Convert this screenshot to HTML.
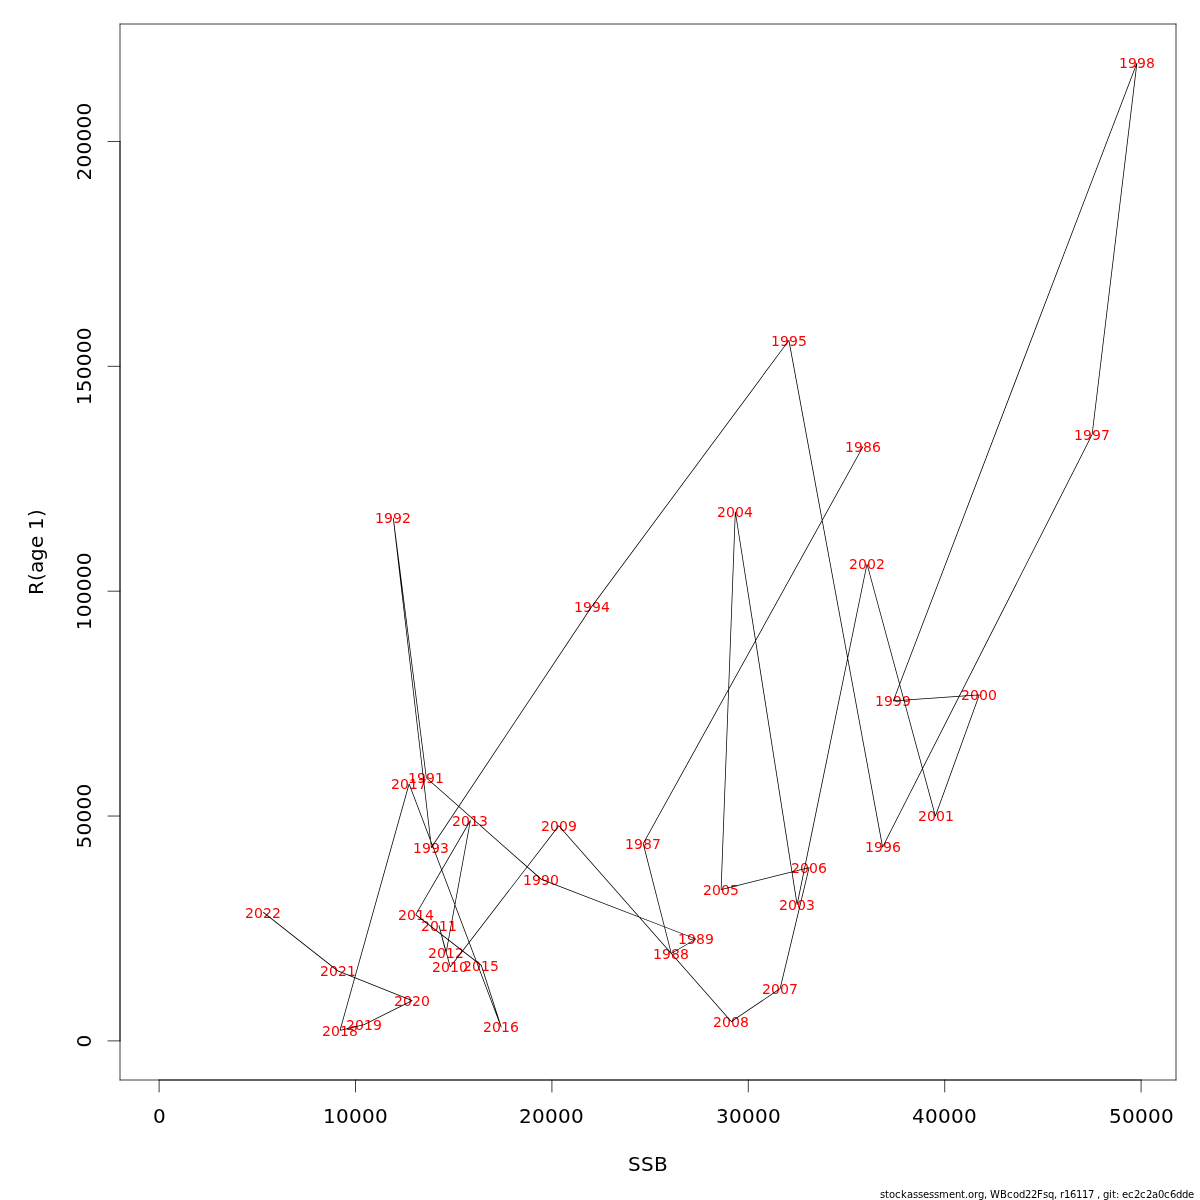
<!DOCTYPE html>
<html lang="en">
<head>
<meta charset="utf-8">
<title>WBcod22Fsq stock-recruitment</title>
<style>
html,body{margin:0;padding:0;background:#fff;}
body{width:1200px;height:1200px;overflow:hidden;}
svg{display:block;}
text{font-family:"DejaVu Sans","Liberation Sans",sans-serif;}
.ax{font-size:20px;fill:#000;}
.yr{font-size:14px;fill:#f00;}
.ft{font-size:10px;fill:#000;}
.ln{stroke:#000;stroke-width:0.75;fill:none;stroke-linecap:round;stroke-linejoin:round;}
</style>
</head>
<body>
<svg width="1200" height="1200" viewBox="0 0 1200 1200">
<rect x="0" y="0" width="1200" height="1200" fill="#fff"/>

<g class="yr">
<text x="845 854 863 872" y="452">1986</text>
<text x="625 634 643 652" y="849">1987</text>
<text x="653 662 671 680" y="959">1988</text>
<text x="678 687 696 705" y="944">1989</text>
<text x="523 532 541 550" y="885">1990</text>
<text x="408 417 426 435" y="783">1991</text>
<text x="375 384 393 402" y="523">1992</text>
<text x="413 422 431 440" y="853">1993</text>
<text x="574 583 592 601" y="612">1994</text>
<text x="771 780 789 798" y="346">1995</text>
<text x="865 874 883 892" y="852">1996</text>
<text x="1074 1083 1092 1101" y="440">1997</text>
<text x="1119 1128 1137 1146" y="68">1998</text>
<text x="875 884 893 902" y="706">1999</text>
<text x="961 970 979 988" y="700">2000</text>
<text x="918 927 936 945" y="821">2001</text>
<text x="849 858 867 876" y="569">2002</text>
<text x="779 788 797 806" y="910">2003</text>
<text x="717 726 735 744" y="517">2004</text>
<text x="703 712 721 730" y="895">2005</text>
<text x="791 800 809 818" y="873">2006</text>
<text x="762 771 780 789" y="994">2007</text>
<text x="713 722 731 740" y="1027">2008</text>
<text x="541 550 559 568" y="831">2009</text>
<text x="432 441 450 459" y="972">2010</text>
<text x="421 430 439 448" y="931">2011</text>
<text x="428 437 446 455" y="958">2012</text>
<text x="452 461 470 479" y="826">2013</text>
<text x="398 407 416 425" y="920">2014</text>
<text x="463 472 481 490" y="971">2015</text>
<text x="483 492 501 510" y="1032">2016</text>
<text x="391 400 409 418" y="789">2017</text>
<text x="322 331 340 349" y="1036">2018</text>
<text x="346 355 364 373" y="1030">2019</text>
<text x="394 403 412 421" y="1006">2020</text>
<text x="320 329 338 347" y="976">2021</text>
<text x="245 254 263 272" y="918">2022</text>
</g>
<path fill="#000" fill-rule="nonzero" d="M863.33 446.78 L643.53 843.78 L642.87 843.42 L862.67 446.42Z M643.56 843.51 L671.66 953.41 L670.94 953.59 L642.84 843.69Z M671.11 953.18 L695.81 938.68 L696.19 939.32 L671.49 953.82Z M695.87 939.35 L541.27 879.75 L541.53 879.05 L696.13 938.65Z M541.15 879.68 L426.05 778.08 L426.55 777.52 L541.65 879.12Z M425.93 777.85 L392.93 518.15 L393.67 518.05 L426.67 777.75Z M393.67 518.06 L431.77 847.46 L431.03 847.54 L392.93 518.14Z M431.09 847.29 L591.49 606.29 L592.11 606.71 L431.71 847.71Z M591.50 606.28 L788.60 340.18 L789.20 340.62 L592.10 606.72Z M789.27 340.33 L882.97 847.03 L882.23 847.17 L788.53 340.47Z M882.27 846.93 L1091.77 434.53 L1092.43 434.87 L882.93 847.27Z M1091.73 434.66 L1136.53 63.06 L1137.27 63.14 L1092.47 434.74Z M1137.25 63.23 L893.65 701.03 L892.95 700.77 L1136.55 62.97Z M893.27 700.53 L979.27 694.53 L979.33 695.27 L893.33 701.27Z M979.65 695.03 L935.75 816.23 L935.05 815.97 L978.95 694.77Z M935.04 816.20 L866.64 564.10 L867.36 563.90 L935.76 816.00Z M867.37 564.08 L797.47 904.68 L796.73 904.52 L866.63 563.92Z M796.73 904.66 L734.93 511.86 L735.67 511.74 L797.47 904.54Z M735.67 511.81 L721.47 889.61 L720.73 889.59 L734.93 511.79Z M721.01 889.24 L809.01 867.24 L809.19 867.96 L721.19 889.96Z M809.46 867.69 L780.46 988.69 L779.74 988.51 L808.74 867.51Z M780.31 988.91 L731.51 1021.91 L731.09 1021.29 L779.89 988.29Z M731.02 1021.85 L558.52 825.95 L559.08 825.45 L731.58 1021.35Z M559.10 825.93 L450.50 967.13 L449.90 966.67 L558.50 825.47Z M449.84 967.00 L438.64 925.80 L439.36 925.60 L450.56 966.80Z M439.36 925.60 L446.46 952.70 L445.74 952.90 L438.64 925.80Z M445.73 952.73 L470.03 820.43 L470.77 820.57 L446.47 952.87Z M470.72 820.69 L416.02 914.79 L415.38 914.41 L470.08 820.31Z M415.93 914.30 L481.53 965.10 L481.07 965.70 L415.47 914.90Z M481.66 965.28 L501.56 1026.88 L500.84 1027.12 L480.94 965.52Z M500.85 1027.13 L408.75 783.93 L409.45 783.67 L501.55 1026.87Z M409.46 783.90 L340.36 1030.50 L339.64 1030.30 L408.74 783.70Z M339.91 1030.04 L364.01 1024.24 L364.19 1024.96 L340.09 1030.76Z M363.93 1024.26 L412.03 1000.26 L412.37 1000.94 L364.27 1024.94Z M412.06 1000.95 L337.66 971.25 L337.94 970.55 L412.34 1000.25Z M337.57 971.19 L263.17 912.69 L263.63 912.11 L338.03 970.61Z M862.62 446.60 a0.375 0.375 0 1 1 0.750 0 a0.375 0.375 0 1 1 -0.750 0Z M642.83 843.60 a0.375 0.375 0 1 1 0.750 0 a0.375 0.375 0 1 1 -0.750 0Z M670.92 953.50 a0.375 0.375 0 1 1 0.750 0 a0.375 0.375 0 1 1 -0.750 0Z M695.62 939.00 a0.375 0.375 0 1 1 0.750 0 a0.375 0.375 0 1 1 -0.750 0Z M541.02 879.40 a0.375 0.375 0 1 1 0.750 0 a0.375 0.375 0 1 1 -0.750 0Z M425.93 777.80 a0.375 0.375 0 1 1 0.750 0 a0.375 0.375 0 1 1 -0.750 0Z M392.93 518.10 a0.375 0.375 0 1 1 0.750 0 a0.375 0.375 0 1 1 -0.750 0Z M431.02 847.50 a0.375 0.375 0 1 1 0.750 0 a0.375 0.375 0 1 1 -0.750 0Z M591.42 606.50 a0.375 0.375 0 1 1 0.750 0 a0.375 0.375 0 1 1 -0.750 0Z M788.52 340.40 a0.375 0.375 0 1 1 0.750 0 a0.375 0.375 0 1 1 -0.750 0Z M882.23 847.10 a0.375 0.375 0 1 1 0.750 0 a0.375 0.375 0 1 1 -0.750 0Z M1091.72 434.70 a0.375 0.375 0 1 1 0.750 0 a0.375 0.375 0 1 1 -0.750 0Z M1136.53 63.10 a0.375 0.375 0 1 1 0.750 0 a0.375 0.375 0 1 1 -0.750 0Z M892.92 700.90 a0.375 0.375 0 1 1 0.750 0 a0.375 0.375 0 1 1 -0.750 0Z M978.92 694.90 a0.375 0.375 0 1 1 0.750 0 a0.375 0.375 0 1 1 -0.750 0Z M935.02 816.10 a0.375 0.375 0 1 1 0.750 0 a0.375 0.375 0 1 1 -0.750 0Z M866.62 564.00 a0.375 0.375 0 1 1 0.750 0 a0.375 0.375 0 1 1 -0.750 0Z M796.73 904.60 a0.375 0.375 0 1 1 0.750 0 a0.375 0.375 0 1 1 -0.750 0Z M734.92 511.80 a0.375 0.375 0 1 1 0.750 0 a0.375 0.375 0 1 1 -0.750 0Z M720.73 889.60 a0.375 0.375 0 1 1 0.750 0 a0.375 0.375 0 1 1 -0.750 0Z M808.73 867.60 a0.375 0.375 0 1 1 0.750 0 a0.375 0.375 0 1 1 -0.750 0Z M779.73 988.60 a0.375 0.375 0 1 1 0.750 0 a0.375 0.375 0 1 1 -0.750 0Z M730.92 1021.60 a0.375 0.375 0 1 1 0.750 0 a0.375 0.375 0 1 1 -0.750 0Z M558.42 825.70 a0.375 0.375 0 1 1 0.750 0 a0.375 0.375 0 1 1 -0.750 0Z M449.82 966.90 a0.375 0.375 0 1 1 0.750 0 a0.375 0.375 0 1 1 -0.750 0Z M438.62 925.70 a0.375 0.375 0 1 1 0.750 0 a0.375 0.375 0 1 1 -0.750 0Z M445.73 952.80 a0.375 0.375 0 1 1 0.750 0 a0.375 0.375 0 1 1 -0.750 0Z M470.02 820.50 a0.375 0.375 0 1 1 0.750 0 a0.375 0.375 0 1 1 -0.750 0Z M415.32 914.60 a0.375 0.375 0 1 1 0.750 0 a0.375 0.375 0 1 1 -0.750 0Z M480.93 965.40 a0.375 0.375 0 1 1 0.750 0 a0.375 0.375 0 1 1 -0.750 0Z M500.82 1027.00 a0.375 0.375 0 1 1 0.750 0 a0.375 0.375 0 1 1 -0.750 0Z M408.73 783.80 a0.375 0.375 0 1 1 0.750 0 a0.375 0.375 0 1 1 -0.750 0Z M339.62 1030.40 a0.375 0.375 0 1 1 0.750 0 a0.375 0.375 0 1 1 -0.750 0Z M363.73 1024.60 a0.375 0.375 0 1 1 0.750 0 a0.375 0.375 0 1 1 -0.750 0Z M411.82 1000.60 a0.375 0.375 0 1 1 0.750 0 a0.375 0.375 0 1 1 -0.750 0Z M337.43 970.90 a0.375 0.375 0 1 1 0.750 0 a0.375 0.375 0 1 1 -0.750 0Z M263.02 912.40 a0.375 0.375 0 1 1 0.750 0 a0.375 0.375 0 1 1 -0.750 0Z"/>
<g class="ln">
<path d="M159.11 1080 H1141.11"/>
<path d="M159.11 1080 V1092"/>
<path d="M355.51 1080 V1092"/>
<path d="M551.91 1080 V1092"/>
<path d="M748.31 1080 V1092"/>
<path d="M944.71 1080 V1092"/>
<path d="M1141.11 1080 V1092"/>
<path d="M120 1040.89 V141.49"/>
<path d="M120 1040.89 H108"/>
<path d="M120 816.04 H108"/>
<path d="M120 591.19 H108"/>
<path d="M120 366.34 H108"/>
<path d="M120 141.49 H108"/>
<path d="M120 24 H1176 M1176 24 V1080 M1176 1080 H120 M120 1080 V24"/>
</g>
<g class="ax">
<text x="153" y="1123">0</text>
<text x="323 336 349 362 375" y="1123">10000</text>
<text x="519 532 545 558 571" y="1123">20000</text>
<text x="716 729 742 755 768" y="1123">30000</text>
<text x="912 925 938 951 964" y="1123">40000</text>
<text x="1109 1122 1135 1148 1161" y="1123">50000</text>
<text transform="translate(91 1040.9) rotate(-90)" x="-6.5" y="0">0</text>
<text transform="translate(91 816.0) rotate(-90)" x="-32.5 -19.5 -6.5 6.5 19.5" y="0">50000</text>
<text transform="translate(91 591.2) rotate(-90)" x="-39 -26 -13 0 13 26" y="0">100000</text>
<text transform="translate(91 366.3) rotate(-90)" x="-39 -26 -13 0 13 26" y="0">150000</text>
<text transform="translate(91 141.5) rotate(-90)" x="-39 -26 -13 0 13 26" y="0">200000</text>
<text x="628 641 654" y="1171">SSB</text>
<text transform="translate(43 552) rotate(-90)" x="-43 -29 -21 -9 4 16 22 35" y="0">R(age 1)</text>
</g>
<text class="ft" x="880 885 889 895 901 907 913 918 923 929 934 939 949 955 961 965 968 974 978 984 987 990 1000 1007 1013 1019 1025 1031 1037 1043 1048 1054 1057 1060 1064 1070 1076 1082 1088 1094 1097 1100 1103 1109 1112 1116 1119 1122 1128 1134 1140 1146 1152 1158 1164 1170 1176 1182 1188" y="1198">stockassessment.org, WBcod22Fsq, r16117 , git: ec2c2a0c6dde</text>
</svg>
</body>
</html>
